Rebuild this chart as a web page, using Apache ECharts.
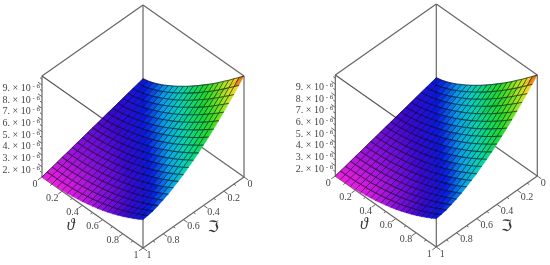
<!DOCTYPE html>
<html>
<head>
<meta charset="utf-8">
<style>
  html, body { margin: 0; padding: 0; background: #fff; }
  #main { width: 550px; height: 265px; }
</style>
<script src="https://cdn.jsdelivr.net/npm/echarts@6/dist/echarts.min.js"></script>
</head>
<body>
<div id="main"></div>
<script>
// values
var thetaValues = [0, 0.05, 0.1, 0.15, 0.2, 0.25, 0.3, 0.35, 0.4, 0.45, 0.5, 0.55, 0.6, 0.65, 0.7, 0.75, 0.8, 0.85, 0.9, 0.95, 1];
var frakValues = [0, 0.05, 0.1, 0.15, 0.2, 0.25, 0.3, 0.35, 0.4, 0.45, 0.5, 0.55, 0.6, 0.65, 0.7, 0.75, 0.8, 0.85, 0.9, 0.95, 1];
// height in 1e-6, one row per frak value, one column per theta value
var heightValues = [
  [3.46, 3.56, 3.72, 3.92, 4.14, 4.39, 4.66, 4.94, 5.24, 5.55, 5.88, 6.22, 6.58, 6.94, 7.31, 7.70, 8.10, 8.50, 8.92, 9.33, 9.77],
  [3.34, 3.43, 3.58, 3.76, 3.96, 4.19, 4.43, 4.70, 4.97, 5.27, 5.57, 5.89, 6.22, 6.57, 6.92, 7.29, 7.67, 8.06, 8.46, 8.86, 9.28],
  [3.22, 3.30, 3.43, 3.60, 3.78, 3.99, 4.21, 4.46, 4.71, 4.98, 5.27, 5.57, 5.88, 6.21, 6.54, 6.89, 7.25, 7.62, 8.01, 8.39, 8.80],
  [3.11, 3.18, 3.30, 3.45, 3.62, 3.80, 4.01, 4.23, 4.47, 4.73, 4.99, 5.27, 5.57, 5.87, 6.19, 6.52, 6.86, 7.22, 7.59, 7.96, 8.35],
  [2.99, 3.05, 3.16, 3.29, 3.44, 3.62, 3.81, 4.01, 4.23, 4.46, 4.71, 4.97, 5.25, 5.54, 5.84, 6.15, 6.48, 6.82, 7.17, 7.52, 7.90],
  [2.87, 2.93, 3.02, 3.14, 3.28, 3.43, 3.61, 3.80, 4.00, 4.22, 4.45, 4.69, 4.95, 5.22, 5.50, 5.80, 6.11, 6.43, 6.77, 7.11, 7.47],
  [2.75, 2.80, 2.88, 2.99, 3.12, 3.26, 3.42, 3.59, 3.77, 3.98, 4.19, 4.42, 4.66, 4.92, 5.18, 5.47, 5.76, 6.07, 6.39, 6.71, 7.06],
  [2.64, 2.68, 2.76, 2.85, 2.96, 3.09, 3.24, 3.40, 3.57, 3.75, 3.95, 4.16, 4.39, 4.63, 4.88, 5.15, 5.43, 5.72, 6.02, 6.34, 6.67],
  [2.52, 2.56, 2.62, 2.71, 2.81, 2.93, 3.06, 3.20, 3.36, 3.53, 3.72, 3.91, 4.13, 4.35, 4.59, 4.84, 5.11, 5.38, 5.67, 5.97, 6.29],
  [2.40, 2.43, 2.49, 2.57, 2.66, 2.76, 2.88, 3.01, 3.16, 3.32, 3.49, 3.67, 3.87, 4.08, 4.31, 4.54, 4.79, 5.05, 5.33, 5.62, 5.92],
  [2.29, 2.32, 2.37, 2.44, 2.52, 2.61, 2.72, 2.84, 2.98, 3.13, 3.29, 3.46, 3.65, 3.85, 4.06, 4.28, 4.52, 4.77, 5.04, 5.31, 5.60],
  [2.17, 2.19, 2.24, 2.30, 2.37, 2.46, 2.56, 2.67, 2.79, 2.93, 3.08, 3.24, 3.42, 3.61, 3.81, 4.02, 4.25, 4.48, 4.74, 5.00, 5.28],
  [2.05, 2.07, 2.11, 2.16, 2.23, 2.31, 2.40, 2.50, 2.61, 2.74, 2.88, 3.03, 3.20, 3.38, 3.56, 3.77, 3.98, 4.21, 4.45, 4.70, 4.97],
  [1.94, 1.96, 1.99, 2.04, 2.10, 2.17, 2.25, 2.35, 2.45, 2.57, 2.70, 2.85, 3.00, 3.17, 3.35, 3.54, 3.75, 3.97, 4.20, 4.44, 4.70],
  [1.82, 1.84, 1.87, 1.91, 1.96, 2.02, 2.10, 2.19, 2.29, 2.40, 2.52, 2.66, 2.81, 2.97, 3.14, 3.33, 3.53, 3.74, 3.96, 4.20, 4.45],
  [1.70, 1.71, 1.74, 1.78, 1.82, 1.88, 1.95, 2.03, 2.13, 2.23, 2.35, 2.48, 2.62, 2.78, 2.94, 3.12, 3.31, 3.52, 3.74, 3.97, 4.21],
  [1.59, 1.60, 1.62, 1.65, 1.70, 1.75, 1.82, 1.90, 1.98, 2.09, 2.20, 2.32, 2.46, 2.61, 2.77, 2.95, 3.14, 3.34, 3.55, 3.78, 4.02],
  [1.47, 1.48, 1.50, 1.53, 1.57, 1.62, 1.68, 1.75, 1.84, 1.94, 2.05, 2.17, 2.30, 2.45, 2.61, 2.78, 2.96, 3.16, 3.38, 3.60, 3.84],
  [1.35, 1.36, 1.37, 1.40, 1.44, 1.48, 1.54, 1.61, 1.70, 1.79, 1.90, 2.02, 2.15, 2.30, 2.45, 2.63, 2.81, 3.01, 3.22, 3.45, 3.69],
  [1.24, 1.25, 1.26, 1.28, 1.32, 1.36, 1.42, 1.49, 1.57, 1.67, 1.77, 1.89, 2.03, 2.18, 2.33, 2.51, 2.70, 2.90, 3.12, 3.35, 3.60],
  [1.12, 1.12, 1.14, 1.16, 1.19, 1.23, 1.29, 1.36, 1.44, 1.54, 1.65, 1.77, 1.91, 2.06, 2.22, 2.41, 2.60, 2.81, 3.04, 3.28, 3.54]
];
var heightMin = 1.12;
var heightMax = 9.77;
var planeTicks = [0, 0.2, 0.4, 0.6, 0.8, 1];
var planeTickLabels = ['0', '0.2', '0.4', '0.6', '0.8', '1'];
var planeMinorTicks = [0.1, 0.3, 0.5, 0.7, 0.9];
var heightTicks = [2, 3, 4, 5, 6, 7, 8, 9];
var heightMinorTicks = [1.5, 2.5, 3.5, 4.5, 5.5, 6.5, 7.5, 8.5, 9.5];
var hueColors = ['#f020e0', '#8810d8', '#3808d0', '#0818e0', '#08a0e8', '#08d0b8', '#10d868', '#20d830', '#60e020', '#b0e820', '#f8d020', '#d82010'];

var lineColor = '#666';
var textColor = '#444';
var fontName = '"Liberation Serif", serif';

// isometric view: plane depth is 0.703 of the height of the box
var depth = 0.703;
function project(theta, frak, height) {
  return [theta - frak, (height - heightMin) / (heightMax - heightMin) - (theta + frak) * depth];
}

function linePoints(api, row) {
  var a = api.coord(project(row[0], row[1], row[2]));
  var b = api.coord(project(row[3], row[4], row[5]));
  return { x1: a[0], y1: a[1], x2: b[0], y2: b[1] };
}

// box edges, as from theta, frak, height, to theta, frak, height
var hi = heightMax, lo = heightMin;
var boxEdges = [
  [0, 0, hi, 0, 1, hi], [0, 0, hi, 1, 0, hi], [0, 1, hi, 1, 1, hi], [1, 0, hi, 1, 1, hi],
  [0, 0, hi, 0, 0, lo], [0, 1, hi, 0, 1, lo], [1, 0, hi, 1, 0, lo], [1, 1, hi, 1, 1, lo],
  [0, 1, lo, 0, 0, lo], [1, 0, lo, 0, 0, lo], [0, 1, lo, 1, 1, lo], [1, 0, lo, 1, 1, lo]
];
// parts of the box that show faintly through the surface
var shownThrough = [
  [0, 1, hi, 1, 1, hi], [1, 0, hi, 1, 1, hi], [1, 1, hi, 1, 1, 3.5], [0, 0, 3.46, 0, 0, lo]
];

var tickLength = 0.04;
var tickRows = [];
planeTicks.forEach(function (t) {
  tickRows.push([t, 1, lo, t, 1 + tickLength, lo]);
  tickRows.push([1, t, lo, 1 + tickLength, t, lo]);
});
planeMinorTicks.forEach(function (t) {
  tickRows.push([t, 1, lo, t, 1 + tickLength / 2, lo]);
  tickRows.push([1, t, lo, 1 + tickLength / 2, t, lo]);
});
heightTicks.forEach(function (h) {
  tickRows.push([0, 1, h, -tickLength, 1, h]);
});
heightMinorTicks.forEach(function (h) {
  tickRows.push([0, 1, h, -tickLength / 2, 1, h]);
});

// surface cells, back to front
var cellRows = [];
for (var j = 0; j < frakValues.length - 1; j++) {
  for (var i = 0; i < thetaValues.length - 1; i++) {
    var mean = (heightValues[j][i] + heightValues[j][i + 1] + heightValues[j + 1][i] + heightValues[j + 1][i + 1]) / 4;
    cellRows.push([i, j, mean]);
  }
}

function lineSeries(gridIndex, rows, color, width) {
  return {
    type: 'custom',
    coordinateSystem: 'cartesian2d',
    xAxisIndex: gridIndex,
    yAxisIndex: gridIndex,
    silent: true,
    animation: false,
    data: rows,
    renderItem: function (params, api) {
      return {
        type: 'line',
        shape: linePoints(api, rows[params.dataIndex]),
        style: { stroke: color, lineWidth: width, fill: null }
      };
    }
  };
}

function surfaceSeries(gridIndex) {
  return {
    type: 'custom',
    coordinateSystem: 'cartesian2d',
    xAxisIndex: gridIndex,
    yAxisIndex: gridIndex,
    silent: true,
    animation: false,
    encode: { x: 0, y: 1 },
    data: cellRows,
    renderItem: function (params, api) {
      var i = api.value(0), j = api.value(1);
      var corner = function (a, b) {
        return api.coord(project(thetaValues[a], frakValues[b], heightValues[b][a]));
      };
      var p00 = corner(i, j), p10 = corner(i + 1, j), p11 = corner(i + 1, j + 1), p01 = corner(i, j + 1);
      return {
        type: 'group',
        children: [
          { type: 'polygon', shape: { points: [p00, p10, p11, p01] },
            style: { fill: api.visual('color'), stroke: api.visual('color'), lineWidth: 0.4 } },
          { type: 'line', shape: { x1: p00[0], y1: p00[1], x2: p10[0], y2: p10[1] },
            style: { stroke: 'rgba(0,0,20,0.62)', lineWidth: 1.1 } },
          { type: 'line', shape: { x1: p00[0], y1: p00[1], x2: p01[0], y2: p01[1] },
            style: { stroke: 'rgba(0,0,20,0.6)', lineWidth: 1 } }
        ]
      };
    }
  };
}

function labelSeries(gridIndex) {
  var rows = [];
  planeTicks.forEach(function (t, k) {
    rows.push({ pos: [t, 1, lo], text: planeTickLabels[k], dx: k === 0 || k === 5 ? -7 : -10, dy: 7 });
    rows.push({ pos: [1, t, lo], text: planeTickLabels[k], dx: k === 0 || k === 5 ? 6 : 10, dy: 7 });
  });
  var heightRows = heightTicks.map(function (h) {
    return { pos: [0, 1, h], text: h };
  });
  var nameRows = [
    { pos: [0.62, 1, lo], text: 'ϑ', dx: -34, dy: 5 },
    { pos: [1, 0.62, lo], text: 'ℑ', dx: 32, dy: 7, frak: true }
  ];
  var all = rows.concat(heightRows, nameRows);
  return {
    type: 'custom',
    coordinateSystem: 'cartesian2d',
    xAxisIndex: gridIndex,
    yAxisIndex: gridIndex,
    silent: true,
    animation: false,
    data: all,
    renderItem: function (params, api) {
      var row = all[params.dataIndex];
      var p = api.coord(project(row.pos[0], row.pos[1], row.pos[2]));
      if (typeof row.text === 'number') {
        return {
          type: 'text',
          style: {
            x: p[0] - 2,
            y: p[1] + 3.5,
            align: 'right',
            verticalAlign: 'middle',
            text: '{a|' + row.text + '. × 10}{b| - 6}',
            rich: {
              a: { fontFamily: fontName, fontSize: 10, fill: textColor },
              b: { fontFamily: fontName, fontSize: 7, fill: textColor, padding: [0, 0, 5, 0] }
            }
          }
        };
      }
      var isName = row.text === 'ϑ' || row.frak;
      return {
        type: 'text',
        style: {
          x: p[0] + row.dx,
          y: p[1] + row.dy,
          align: 'center',
          verticalAlign: 'middle',
          text: row.text,
          fontFamily: row.frak ? '"DejaVu Sans"' : fontName,
          fontStyle: row.text === 'ϑ' ? 'italic' : 'normal',
          fontSize: isName ? 16 : 10,
          fill: isName ? '#333' : textColor
        }
      };
    }
  };
}

// one grid per plot, the hidden axes carry the projected coordinates
var panelGrids = [
  { left: 42, top: 5, width: 202, height: 243 },
  { left: 335.3, top: 4, width: 202, height: 243 }
];
var series = [];
var surfaceIndexes = [];
var xAxes = [];
var yAxes = [];
panelGrids.forEach(function (g, k) {
  xAxes.push({ type: 'value', gridIndex: k, min: -1, max: 1, show: false });
  yAxes.push({ type: 'value', gridIndex: k, min: -2 * depth, max: 1, show: false });
  series.push(lineSeries(k, boxEdges, lineColor, 1.2));
  surfaceIndexes.push(series.length);
  series.push(surfaceSeries(k));
  series.push(lineSeries(k, shownThrough, 'rgba(20,20,20,0.18)', 1));
  series.push(lineSeries(k, tickRows, lineColor, 1));
  series.push(labelSeries(k));
});

var chart = echarts.init(document.getElementById('main'), null, { renderer: 'canvas' });
chart.setOption({
  backgroundColor: '#fff',
  animation: false,
  tooltip: { show: false },
  grid: panelGrids,
  xAxis: xAxes,
  yAxis: yAxes,
  visualMap: {
    show: false,
    type: 'continuous',
    seriesIndex: surfaceIndexes,
    dimension: 2,
    min: heightMin,
    max: heightMax,
    inRange: { color: hueColors }
  },
  series: series
});
</script>
</body>
</html>
